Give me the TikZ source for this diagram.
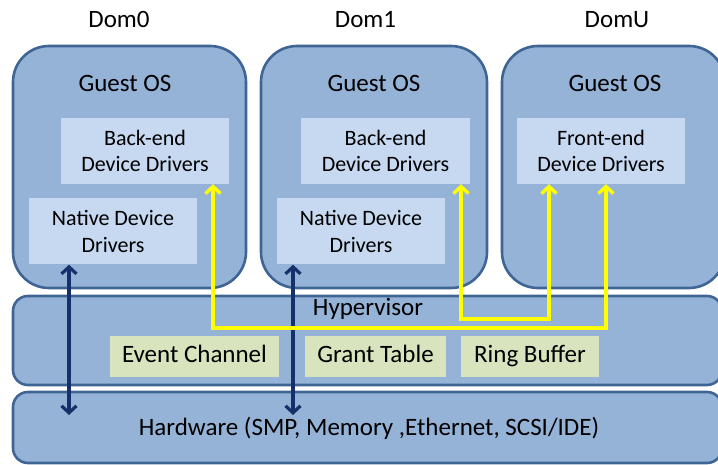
\documentclass[tikz,border=0pt]{standalone}
\usepackage{fontspec}
\setmainfont{Carlito}
\usetikzlibrary{arrows.meta}
\definecolor{boxfill}{HTML}{95B3D7}
\definecolor{boxline}{HTML}{3F6594}
\definecolor{innerfill}{HTML}{C6D9F1}
\definecolor{greenfill}{HTML}{D7E4BD}
\definecolor{navy}{HTML}{14316B}
\definecolor{yel}{HTML}{FFFF00}
\tikzset{
  dombox/.style={draw=boxline, fill=boxfill, line width=2.6pt, rounded corners=36pt, minimum width=#1, minimum height=242pt, inner sep=0pt},
  layerbox/.style={draw=boxline, fill=boxfill, line width=2.6pt, rounded corners=15pt, inner sep=0pt},
  drvbox/.style={fill=innerfill, minimum width=#1, minimum height=66pt, inner sep=0pt, align=center, font=\fontsize{22}{26.5}\selectfont},
  grnbox/.style={fill=greenfill, minimum width=#1, minimum height=41pt, inner sep=0pt, text height=16pt, text depth=5pt, font=\fontsize{25}{30}\selectfont},
  biglbl/.style={inner sep=0pt, font=\fontsize{25}{30}\selectfont},
  darr/.style={draw=navy, line width=3.2pt, {Straight Barb[length=7pt,width=15pt]}-{Straight Barb[length=7pt,width=15pt]}},
  yarr/.style={draw=yel, line width=3.4pt, {Straight Barb[length=7pt,width=15pt]}-{Straight Barb[length=7pt,width=15pt]}},
}
\begin{document}
\begin{tikzpicture}[x=1pt,y=-1pt]
\useasboundingbox (0,0) rectangle (718,465);
\clip (0,0) rectangle (718,465);
% domain boxes
\node[dombox=233pt] (d0) at (129.5,167) {};
\node[dombox=226pt] (d1) at (374,167) {};
\node[dombox=223pt] (du) at (613.5,167) {};
% layers
\node[layerbox, minimum width=709pt, minimum height=89pt] (hv) at (367.5,340.5) {};
\node[layerbox, minimum width=709pt, minimum height=71pt] (hw) at (367.5,427.5) {};
% top labels
\node[biglbl] (l0) at (119,19.5) {Dom0};
\node[biglbl] (l1) at (365.5,19.5) {Dom1};
\node[biglbl] (lu) at (617,19.5) {DomU};
\node[biglbl] (g0) at (125,83.5) {Guest OS};
\node[biglbl] (g1) at (374,83.5) {Guest OS};
\node[biglbl] (gu) at (615,83.5) {Guest OS};
% driver boxes
\node[drvbox=168pt] (be0) at (145,151) {Back-end\\Device Drivers};
\node[drvbox=168pt] (nd0) at (113,231.5) {Native Device\\Drivers};
\node[drvbox=169pt] (be1) at (385.5,151) {Back-end\\Device Drivers};
\node[drvbox=168pt] (nd1) at (361,231.5) {Native Device\\Drivers};
\node[drvbox=168pt] (fe) at (601,151) {Front-end\\Device Drivers};
% hypervisor content
\node[biglbl] (hvl) at (368,308.5) {Hypervisor};
\node[grnbox=169pt] (ec) at (194.5,356.5) {Event Channel};
\node[grnbox=141pt] (gt) at (375.5,356.5) {Grant Table};
\node[grnbox=138pt] (rb) at (530,356.5) {Ring Buffer};
\node[biglbl] (hwl) at (369,428) {Hardware (SMP, Memory ,Ethernet, SCSI/IDE)};
% navy arrows
\coordinate (n0) at (69,415);
\coordinate (n1) at (293,415);
\draw[darr] (n0) -- (n0 |- nd0.south);
\draw[darr] (n1) -- (n1 |- nd1.south);
% yellow arrows
\coordinate (ya) at (213,328);
\coordinate (yb) at (606,328);
\coordinate (yc) at (461,319);
\coordinate (yd) at (549,319);
\draw[yarr] (ya |- be0.south) -- (ya) -- (yb) -- (yb |- fe.south);
\draw[yarr] (yc |- be1.south) -- (yc) -- (yd) -- (yd |- fe.south);
\end{tikzpicture}
\end{document}
